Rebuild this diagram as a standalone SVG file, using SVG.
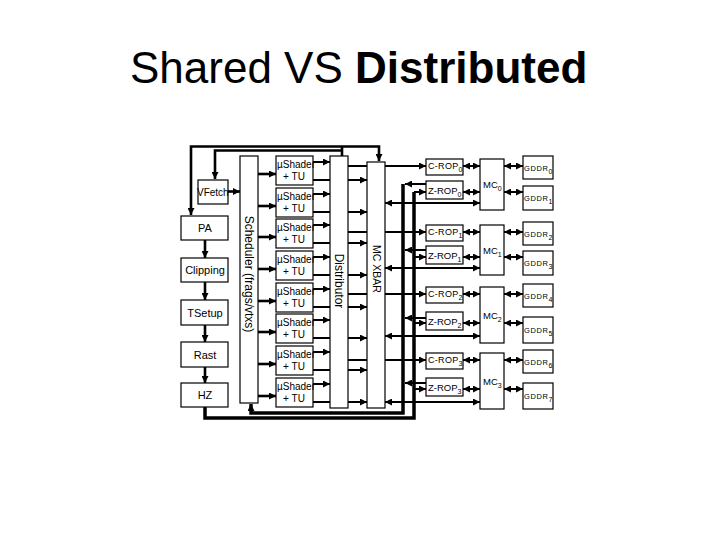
<svg xmlns="http://www.w3.org/2000/svg" width="720" height="540" viewBox="0 0 720 540">
<defs>
<marker id="ah" viewBox="0 0 10 10" refX="10" refY="5" markerWidth="7" markerHeight="7" markerUnits="userSpaceOnUse" orient="auto-start-reverse"><path d="M0,0 L10,5 L0,10 z" fill="#000"/></marker>
</defs>
<style>
text{font-family:"Liberation Sans",Arial,sans-serif;fill:#000}
.b{fill:#fff;stroke:#000;stroke-width:1.2}
.l{fill:none;stroke:#000;stroke-width:2}
.t{stroke-width:2.6}
.bus{stroke-width:3.5}
.d{stroke-dasharray:4 3}
.a{marker-end:url(#ah)}
.aa{marker-start:url(#ah);marker-end:url(#ah)}
.p{font-size:11px;text-anchor:middle}
.u{font-size:10px}
.cr{font-size:9px;letter-spacing:0.3px}
.zr{font-size:9.5px}
.mc{font-size:9.5px}
.gd{font-size:7.5px;letter-spacing:0.6px}
.s{font-size:7px}
</style>
<rect width="720" height="540" fill="#fff"/>
<text x="130" y="83" font-size="44">Shared VS <tspan font-weight="bold">Distributed</tspan></text>

<g id="connectors">
<!-- top feedback lines -->
<path class="l t" d="M342,156 V146.5"/>
<path class="l t a" d="M342,146.5 H191 V215"/>
<path class="l t a" d="M342,146.5 H379 V161"/>
<path class="l t a" d="M342,150.5 H215 V179"/>
<!-- pipeline -->
<path class="l t a" d="M228,191.5 H240"/>
<path class="l t a" d="M205,240 V258"/>
<path class="l t a" d="M205,282 V300"/>
<path class="l t a" d="M205,325 V342"/>
<path class="l t a" d="M205,367 V383"/>
<!-- buses -->
<path class="l bus a" d="M403,184 V413 H251 V404"/>
<path class="l bus" d="M414,192 V418 H205 V407"/>
<!-- scheduler to shaders -->
<path class="l t a" d="M258,174 H276"/>
<path class="l t a" d="M258,206 H276"/>
<path class="l t a" d="M258,237 H276"/>
<path class="l t a" d="M258,269 H276"/>
<path class="l t a" d="M258,301 H276"/>
<path class="l t a" d="M258,332 H276"/>
<path class="l t a" d="M258,364 H276"/>
<path class="l t a" d="M258,396 H276"/>
<!-- shaders to distributor -->
<path class="l a" d="M313,162 H330"/>
<path class="l a" d="M313,194 H330"/>
<path class="l a" d="M313,225 H330"/>
<path class="l a" d="M313,257 H330"/>
<path class="l a" d="M313,289 H330"/>
<path class="l a" d="M313,320 H330"/>
<path class="l a" d="M313,352 H330"/>
<path class="l a" d="M313,384 H330"/>
<!-- shaders through distributor to xbar -->
<path class="l" d="M313,180 H330 M313,212 H330 M313,243 H330 M313,275 H330 M313,307 H330 M313,338 H330 M313,370 H330 M313,402 H330"/>
<path class="l d" d="M330,180 H348 M330,212 H348 M330,243 H348 M330,275 H348 M330,307 H348 M330,338 H348 M330,370 H348 M330,402 H348"/>
<path class="l a" d="M348,180 H367"/>
<path class="l a" d="M348,212 H367"/>
<path class="l a" d="M348,243 H367"/>
<path class="l a" d="M348,275 H367"/>
<path class="l a" d="M348,307 H367"/>
<path class="l a" d="M348,338 H367"/>
<path class="l a" d="M348,370 H367"/>
<path class="l a" d="M348,402 H367"/>
<!-- distributor to C-ROPs -->
<path class="l" d="M348,166 H367 M348,232 H367 M348,294 H367 M348,360 H367"/>
<path class="l d" d="M367,166 H385 M367,232 H385 M367,294 H385 M367,360 H385"/>
<path class="l a" d="M385,166 H426"/>
<path class="l a" d="M385,232 H426"/>
<path class="l a" d="M385,294 H426"/>
<path class="l a" d="M385,360 H426"/>
<!-- Z-ROP out / in -->
<path class="l a" d="M426,184 H405"/>
<path class="l a" d="M426,250 H405"/>
<path class="l a" d="M426,318 H405"/>
<path class="l a" d="M426,383 H405"/>
<path class="l a" d="M414,192 H426"/>
<path class="l a" d="M414,257 H426"/>
<path class="l a" d="M414,323 H426"/>
<path class="l a" d="M414,389 H426"/>
<!-- MC <-> XBAR -->
<path class="l aa" d="M385,203 H480"/>
<path class="l aa" d="M385,268 H480"/>
<path class="l aa" d="M385,336 H480"/>
<path class="l aa" d="M385,402 H480"/>
<!-- ROP <-> MC -->
<path class="l aa" d="M463,166 H480"/>
<path class="l aa" d="M463,192 H480"/>
<path class="l aa" d="M463,232 H480"/>
<path class="l aa" d="M463,257 H480"/>
<path class="l aa" d="M463,294 H480"/>
<path class="l aa" d="M463,323 H480"/>
<path class="l aa" d="M463,360 H480"/>
<path class="l aa" d="M463,389 H480"/>
<!-- MC <-> GDDR -->
<path class="l aa" d="M504,166 H523"/>
<path class="l aa" d="M504,192 H523"/>
<path class="l aa" d="M504,232 H523"/>
<path class="l aa" d="M504,257 H523"/>
<path class="l aa" d="M504,294 H523"/>
<path class="l aa" d="M504,323 H523"/>
<path class="l aa" d="M504,360 H523"/>
<path class="l aa" d="M504,389 H523"/>
</g>

<g id="vfetch"><rect class="b" x="198" y="180" width="30" height="24"/><text x="197" y="196" font-size="10">VFetch</text></g>
<g id="pa"><rect class="b" x="181" y="216" width="47" height="24"/><text class="p" x="205" y="232">PA</text></g>
<g id="clipping"><rect class="b" x="181" y="258" width="47" height="24"/><text class="p" x="205" y="274">Clipping</text></g>
<g id="tsetup"><rect class="b" x="181" y="300" width="47" height="25"/><text class="p" x="205" y="316.5">TSetup</text></g>
<g id="rast"><rect class="b" x="181" y="342" width="47" height="25"/><text class="p" x="205" y="358.5">Rast</text></g>
<g id="hz"><rect class="b" x="181" y="383" width="47" height="24"/><text class="p" x="205" y="399">HZ</text></g>

<g id="scheduler"><rect class="b" x="240" y="156" width="18" height="247"/><text transform="translate(249,274) rotate(90)" y="4" font-size="12" text-anchor="middle">Scheduler (frags/vtxs)</text></g>
<g id="distributor"><rect class="b" x="330" y="156" width="18" height="252"/><text transform="translate(339,281) rotate(90)" y="4" font-size="12" text-anchor="middle">Distributor</text></g>
<g id="mcxbar"><rect class="b" x="367" y="162" width="18" height="246"/><text transform="translate(376,269) rotate(90)" y="3.5" font-size="10.5" text-anchor="middle">MC XBAR</text></g>

<g id="shader0"><rect class="b" x="276" y="156" width="37" height="29"/><text class="u" x="277" y="168">µShader</text><text class="u" x="294" y="180" text-anchor="middle">+ TU</text></g>
<g id="shader1"><rect class="b" x="276" y="188" width="37" height="29"/><text class="u" x="277" y="200">µShader</text><text class="u" x="294" y="212" text-anchor="middle">+ TU</text></g>
<g id="shader2"><rect class="b" x="276" y="219" width="37" height="29"/><text class="u" x="277" y="231">µShader</text><text class="u" x="294" y="243" text-anchor="middle">+ TU</text></g>
<g id="shader3"><rect class="b" x="276" y="251" width="37" height="29"/><text class="u" x="277" y="263">µShader</text><text class="u" x="294" y="275" text-anchor="middle">+ TU</text></g>
<g id="shader4"><rect class="b" x="276" y="283" width="37" height="29"/><text class="u" x="277" y="295">µShader</text><text class="u" x="294" y="307" text-anchor="middle">+ TU</text></g>
<g id="shader5"><rect class="b" x="276" y="314" width="37" height="29"/><text class="u" x="277" y="326">µShader</text><text class="u" x="294" y="338" text-anchor="middle">+ TU</text></g>
<g id="shader6"><rect class="b" x="276" y="346" width="37" height="29"/><text class="u" x="277" y="358">µShader</text><text class="u" x="294" y="370" text-anchor="middle">+ TU</text></g>
<g id="shader7"><rect class="b" x="276" y="378" width="37" height="29"/><text class="u" x="277" y="390">µShader</text><text class="u" x="294" y="402" text-anchor="middle">+ TU</text></g>

<g id="crop0"><rect class="b" x="426" y="159" width="37" height="16"/><text class="cr" x="428" y="169">C-ROP<tspan class="s" dy="2.5">0</tspan></text></g>
<g id="zrop0"><rect class="b" x="426" y="181" width="37" height="18"/><text class="zr" x="428" y="194">Z-ROP<tspan class="s" dy="2.5">0</tspan></text></g>
<g id="mc0"><rect class="b" x="480" y="159" width="24" height="51"/><text class="mc" x="483" y="188">MC<tspan class="s" dy="2.5">0</tspan></text></g>
<g id="gddr0"><rect class="b" x="523" y="156" width="30" height="23"/><text class="gd" x="524" y="171">GDDR<tspan class="s" dy="2.5">0</tspan></text></g>
<g id="gddr1"><rect class="b" x="523" y="186" width="30" height="24"/><text class="gd" x="524" y="201">GDDR<tspan class="s" dy="2.5">1</tspan></text></g>

<g id="crop1"><rect class="b" x="426" y="225" width="37" height="16"/><text class="cr" x="428" y="235">C-ROP<tspan class="s" dy="2.5">1</tspan></text></g>
<g id="zrop1"><rect class="b" x="426" y="246" width="37" height="18"/><text class="zr" x="428" y="259">Z-ROP<tspan class="s" dy="2.5">1</tspan></text></g>
<g id="mc1"><rect class="b" x="480" y="225" width="24" height="50"/><text class="mc" x="483" y="254">MC<tspan class="s" dy="2.5">1</tspan></text></g>
<g id="gddr2"><rect class="b" x="523" y="222" width="30" height="23"/><text class="gd" x="524" y="237">GDDR<tspan class="s" dy="2.5">2</tspan></text></g>
<g id="gddr3"><rect class="b" x="523" y="251" width="30" height="24"/><text class="gd" x="524" y="266">GDDR<tspan class="s" dy="2.5">3</tspan></text></g>

<g id="crop2"><rect class="b" x="426" y="287" width="37" height="16"/><text class="cr" x="428" y="297">C-ROP<tspan class="s" dy="2.5">2</tspan></text></g>
<g id="zrop2"><rect class="b" x="426" y="312" width="37" height="18"/><text class="zr" x="428" y="325">Z-ROP<tspan class="s" dy="2.5">2</tspan></text></g>
<g id="mc2"><rect class="b" x="480" y="287" width="24" height="56"/><text class="mc" x="483" y="319">MC<tspan class="s" dy="2.5">2</tspan></text></g>
<g id="gddr4"><rect class="b" x="523" y="284" width="30" height="23"/><text class="gd" x="524" y="299">GDDR<tspan class="s" dy="2.5">4</tspan></text></g>
<g id="gddr5"><rect class="b" x="523" y="317" width="30" height="26"/><text class="gd" x="524" y="333">GDDR<tspan class="s" dy="2.5">5</tspan></text></g>

<g id="crop3"><rect class="b" x="426" y="353" width="37" height="16"/><text class="cr" x="428" y="363">C-ROP<tspan class="s" dy="2.5">3</tspan></text></g>
<g id="zrop3"><rect class="b" x="426" y="378" width="37" height="18"/><text class="zr" x="428" y="391">Z-ROP<tspan class="s" dy="2.5">3</tspan></text></g>
<g id="mc3"><rect class="b" x="480" y="353" width="24" height="56"/><text class="mc" x="483" y="385">MC<tspan class="s" dy="2.5">3</tspan></text></g>
<g id="gddr6"><rect class="b" x="523" y="350" width="30" height="23"/><text class="gd" x="524" y="365">GDDR<tspan class="s" dy="2.5">6</tspan></text></g>
<g id="gddr7"><rect class="b" x="523" y="383" width="30" height="26"/><text class="gd" x="524" y="399">GDDR<tspan class="s" dy="2.5">7</tspan></text></g>
</svg>
